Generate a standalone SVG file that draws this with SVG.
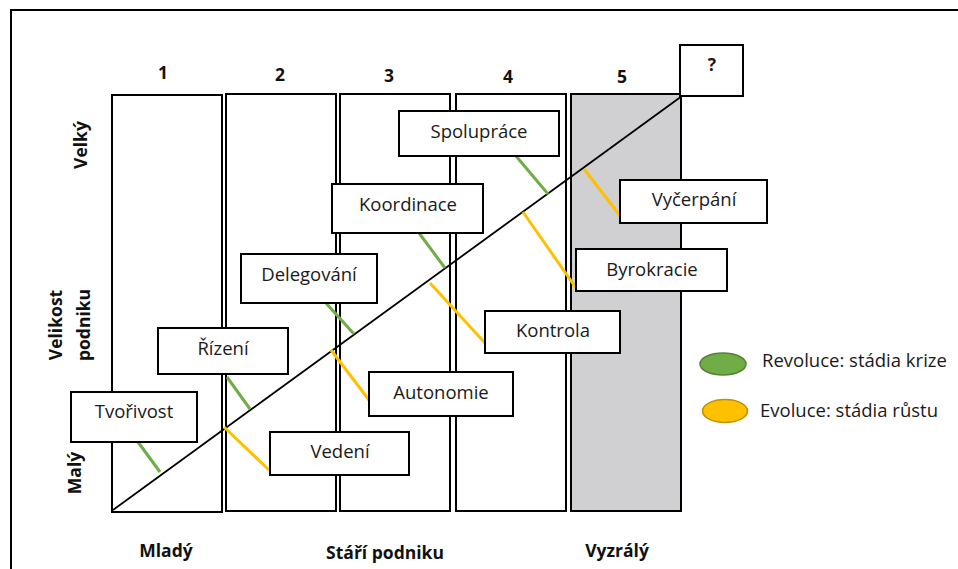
<svg xmlns="http://www.w3.org/2000/svg" width="958" height="569" viewBox="0 0 958 569">
<style>
.col{fill:#fff;stroke:#000;stroke-width:2}
.box rect{fill:#fff;stroke:#000;stroke-width:2}
.box text,.leg text{font-family:"Open Sans","Liberation Sans",sans-serif;font-size:18.5px;fill:#1a1a1a;text-anchor:middle}
.leg text{text-anchor:start}
.lbl{font-family:"Open Sans","Liberation Sans",sans-serif;font-weight:bold;font-size:17.5px;fill:#111;text-anchor:middle}
.g{stroke:#70ad47;stroke-width:3}
.y{stroke:#ffc000;stroke-width:3}
</style>
<rect width="958" height="569" fill="#fff"/>
<path d="M11,569 V10 H958" fill="none" stroke="#000" stroke-width="2"/>
<g id="columns">
<rect class="col" x="112" y="95" width="110" height="417"/>
<rect class="col" x="226" y="94" width="110" height="417"/>
<rect class="col" x="340" y="94" width="110" height="417"/>
<rect class="col" x="456" y="94" width="110" height="417"/>
<rect class="col" x="571" y="94" width="110" height="417" style="fill:#d0cfd1"/>
</g>
<g id="col-labels">
<text class="lbl" x="163" y="79">1</text>
<text class="lbl" x="280" y="81">2</text>
<text class="lbl" x="389" y="82">3</text>
<text class="lbl" x="508" y="83">4</text>
<text class="lbl" x="622" y="83">5</text>
</g>
<g id="axis-labels">
<text class="lbl" transform="translate(87,145) rotate(-90)">Velký</text>
<text class="lbl" transform="translate(62,325) rotate(-90)">Velikost</text>
<text class="lbl" transform="translate(90,325) rotate(-90)">podniku</text>
<text class="lbl" transform="translate(81,473) rotate(-90)">Malý</text>
<text class="lbl" x="166" y="557">Mladý</text>
<text class="lbl" x="385" y="559">Stáří podniku</text>
<text class="lbl" x="617" y="557">Vyzrálý</text>
</g>
<g id="connectors">
<line x1="113" y1="510" x2="682" y2="96" stroke="#000" stroke-width="1.8"/>
<line class="g" x1="138" y1="442" x2="160" y2="472"/>
<line class="g" x1="227" y1="377" x2="250" y2="409"/>
<line class="y" x1="224" y1="427" x2="269" y2="470"/>
<line class="g" x1="325" y1="302" x2="354" y2="334"/>
<line class="y" x1="331" y1="350" x2="372" y2="404"/>
<line class="g" x1="419" y1="233" x2="445" y2="268"/>
<line class="y" x1="430" y1="283" x2="485" y2="343"/>
<line class="g" x1="516" y1="156" x2="548" y2="194"/>
<line class="y" x1="523" y1="212" x2="576" y2="288"/>
<line class="y" x1="584" y1="169" x2="621" y2="217"/>
</g>
<g id="q" class="box"><rect x="680" y="45" width="63" height="51"/><text x="712" y="71" style="font-weight:bold;font-size:17.5px">?</text></g>
<g id="tvorivost" class="box"><rect x="71" y="392" width="126" height="50"/><text x="134" y="418">Tvořivost</text></g>
<g id="rizeni" class="box"><rect x="158" y="328" width="130" height="46"/><text x="223" y="355">Řízení</text></g>
<g id="vedeni" class="box"><rect x="270" y="432" width="139" height="43"/><text x="340" y="458">Vedení</text></g>
<g id="delegovani" class="box"><rect x="241" y="254" width="136" height="49"/><text x="309" y="281">Delegování</text></g>
<g id="autonomie" class="box"><rect x="369" y="372" width="144" height="44"/><text x="441" y="399">Autonomie</text></g>
<g id="koordinace" class="box"><rect x="332" y="184" width="151" height="49"/><text x="408" y="211">Koordinace</text></g>
<g id="kontrola" class="box"><rect x="485" y="311" width="135" height="42"/><text x="553" y="337">Kontrola</text></g>
<g id="spoluprace" class="box"><rect x="399" y="111" width="160" height="45"/><text x="479" y="138">Spolupráce</text></g>
<g id="byrokracie" class="box"><rect x="576" y="249" width="151" height="42"/><text x="652" y="276">Byrokracie</text></g>
<g id="vycerpani" class="box"><rect x="620" y="180" width="147" height="43"/><text x="694" y="206">Vyčerpání</text></g>
<g id="legend" class="leg">
<ellipse cx="723" cy="364" rx="23" ry="11" fill="#70ad47" stroke="#548235" stroke-width="1.5"/>
<text x="762" y="367">Revoluce: stádia krize</text>
<ellipse cx="725" cy="411" rx="22.5" ry="11.5" fill="#ffc000" stroke="#bf9000" stroke-width="1.5"/>
<text x="760" y="417">Evoluce: stádia růstu</text>
</g>
</svg>
